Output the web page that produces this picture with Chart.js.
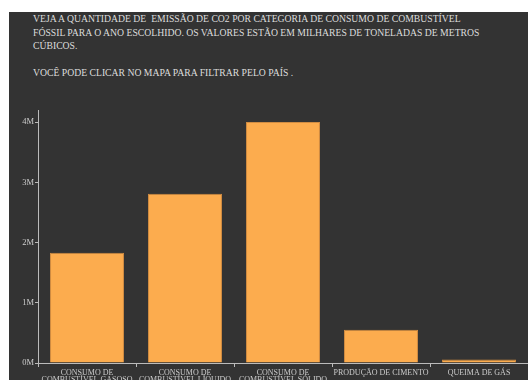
<!DOCTYPE html>
<html>
<head>
<meta charset="utf-8">
<script src="https://cdn.jsdelivr.net/npm/chart.js@4"></script>
<style>
  html, body { margin: 0; padding: 0; background: #fff; overflow: hidden; width: 528px; height: 380px; }
  .panel { position: absolute; left: 9px; top: 12px; width: 519px; height: 380px; background: #333; }
  .info {
    position: absolute; left: 33px; top: 12px;
    font-family: "Liberation Serif", "DejaVu Serif", serif;
    font-size: 9.7px; line-height: 13.5px; color: #ddd; white-space: nowrap;
  }
  #chart { position: absolute; left: 0; top: 0; }
</style>
</head>
<body>
<div class="panel"></div>
<div class="info">
  VEJA A QUANTIDADE DE&nbsp; EMISSÃO DE CO2 POR CATEGORIA DE CONSUMO DE COMBUSTÍVEL<br>
  FÓSSIL PARA O ANO ESCOLHIDO. OS VALORES ESTÃO EM MILHARES DE TONELADAS DE METROS<br>
  CÚBICOS.<br>
  <br>
  VOCÊ PODE CLICAR NO MAPA PARA FILTRAR PELO PAÍS .
</div>
<canvas id="chart" width="528" height="400" style="width:528px;height:400px"></canvas>
<script>
  // emissões por categoria (milhões)
  const categories = [
    ['CONSUMO DE', 'COMBUSTÍVEL GASOSO'],
    ['CONSUMO DE', 'COMBUSTÍVEL LÍQUIDO'],
    ['CONSUMO DE', 'COMBUSTÍVEL SÓLIDO'],
    'PRODUÇÃO DE CIMENTO',
    'QUEIMA DE GÁS'
  ];
  const values = [1.83, 2.81, 4.0, 0.55, 0.06];
  const yTicks = [0, 1, 2, 3, 4];

  const axisColor = '#bbb';
  const serif = '"Liberation Serif", "DejaVu Serif", serif';

  new Chart(document.getElementById('chart'), {
    type: 'bar',
    data: {
      labels: categories,
      datasets: [{
        data: values,
        backgroundColor: '#fcac4e',
        borderColor: '#d08c42',
        borderWidth: 1,
        barPercentage: 0.755,
        categoryPercentage: 1
      }]
    },
    options: {
      responsive: false,
      animation: false,
      layout: { padding: { top: 110, left: 0, right: 0, bottom: 0 } },
      plugins: { legend: { display: false }, tooltip: { enabled: false } },
      scales: {
        x: {
          grid: { display: true, offset: true, drawOnChartArea: false, tickLength: 4, color: axisColor },
          border: { color: axisColor },
          ticks: { color: '#ccc', font: { family: serif, size: 8, lineHeight: 0.95 }, maxRotation: 0, autoSkip: false, padding: 2 },
          afterFit: s => { s.height = 37; }
        },
        y: {
          min: 0,
          max: 4.2,
          grid: { display: true, drawOnChartArea: false, tickLength: 3, color: axisColor },
          border: { color: axisColor },
          ticks: {
            color: '#ccc', font: { family: serif, size: 8.5 }, padding: 1,
            callback: v => v + 'M'
          },
          afterBuildTicks: s => { s.ticks = yTicks.map(v => ({ value: v })); },
          afterFit: s => { s.width = 38; }
        }
      }
    }
  });
</script>
</body>
</html>
